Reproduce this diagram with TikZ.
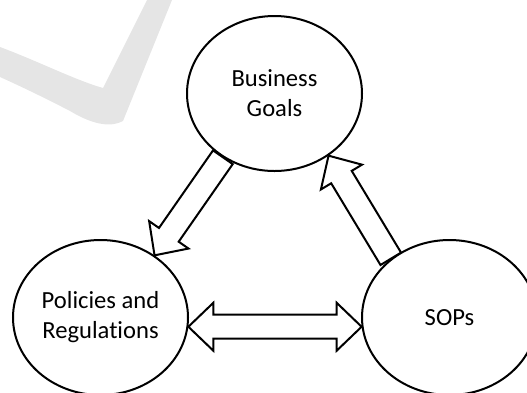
\documentclass[tikz,border=0pt]{standalone}
\usepackage{fontspec}
\setmainfont{Carlito}[Ligatures=NoCommon]
\usetikzlibrary{calc,shapes.geometric}

% hollow block arrow from #1 (tail) to #2 (tip)
\newcommand{\blockarrow}[2]{%
	\coordinate (hb) at ($(#2)!25pt!(#1)$);
	\draw[block] ($(#1)!12pt!90:(#2)$) -- ($(hb)!12pt!90:(#2)$) -- ($(hb)!24pt!90:(#2)$) -- (#2)
		-- ($(hb)!24pt!-90:(#2)$) -- ($(hb)!12pt!-90:(#2)$) -- ($(#1)!12pt!-90:(#2)$) -- cycle;
}
% hollow block arrow with a head at both ends
\newcommand{\dblockarrow}[2]{%
	\coordinate (ha) at ($(#1)!25pt!(#2)$);
	\coordinate (hb) at ($(#2)!25pt!(#1)$);
	\draw[block] (#1) -- ($(ha)!24pt!90:(#2)$) -- ($(ha)!12pt!90:(#2)$) -- ($(hb)!12pt!-90:(#1)$) -- ($(hb)!24pt!-90:(#1)$) -- (#2)
		-- ($(hb)!24pt!90:(#1)$) -- ($(hb)!12pt!90:(#1)$) -- ($(ha)!12pt!-90:(#2)$) -- ($(ha)!24pt!-90:(#2)$) -- cycle;
}

\begin{document}
\begin{tikzpicture}[x=1pt, y=1pt,
		part/.style={draw, ellipse, line width=2pt, minimum width=175pt, minimum height=155pt, inner sep=0pt,
			align=center, font=\fontsize{24.6}{30}\selectfont, text=black},
		block/.style={line width=2pt, line join=miter}]
	\useasboundingbox (0,0) rectangle (527,-392);
	% faint tick in the background
	\fill[black!10] (0,-47) .. controls (40,-62) and (75,-80) .. (103,-88) -- (147,0) -- (172,0) -- (123,-121)
		.. controls (112,-127) and (95,-126) .. (70,-111) .. controls (45,-98) and (20,-86) .. (0,-77) -- cycle;
	
	\path (274.5, -93.5) node[part] (bg){Business\\Goals}
	(100.5, -317.5) node[part] (pr){Policies and\\Regulations}
	(449.5, -317.5) node[part] (sop){\raisebox{-4pt}{SOPs}};
	
	\blockarrow{bg.231}{pr.49}
	\blockarrow{sop.135}{bg.-49}
	\dblockarrow{pr.-6}{sop.186}
\end{tikzpicture}
\end{document}
